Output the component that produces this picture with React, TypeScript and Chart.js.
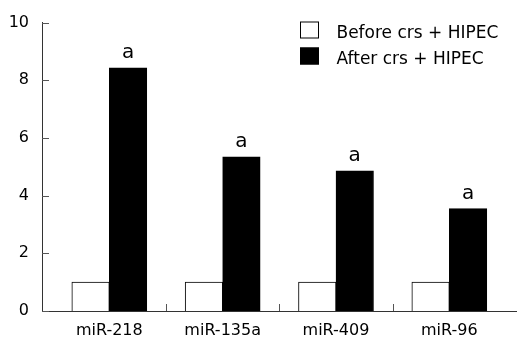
import React, { useEffect, useRef } from "react";
import { Chart, registerables } from "chart.js";

Chart.register(...registerables);

const categories = ["miR-218", "miR-135a", "miR-409", "miR-96"];
const beforeValues = [1.0, 1.0, 1.0, 1.0];
const afterValues = [8.43, 5.35, 4.86, 3.55];
const sigMarks = ["a", "a", "a", "a"];
const seriesLabels = ["Before crs + HIPEC", "After crs + HIPEC"];
const yTicks = [0, 2, 4, 6, 8, 10];

const FONT = "'DejaVu Sans', Verdana, sans-serif";

const axisTicksPlugin = {
  id: "axisTicks",
  afterDraw(chart: any) {
    const { ctx, scales } = chart;
    const x = scales.x;
    const y = scales.y;
    ctx.save();
    ctx.strokeStyle = "#555";
    ctx.lineWidth = 1;
    y.ticks.forEach((t: any) => {
      const py = Math.round(y.getPixelForValue(t.value)) + 0.5;
      ctx.beginPath();
      ctx.moveTo(x.left, py);
      ctx.lineTo(x.left + 7, py);
      ctx.stroke();
    });
    for (let i = 0; i < categories.length - 1; i++) {
      const px = Math.round(x.getPixelForValue(i + 0.5)) + 0.5;
      ctx.beginPath();
      ctx.moveTo(px, y.bottom);
      ctx.lineTo(px, y.bottom - 7);
      ctx.stroke();
    }
    ctx.restore();
  },
};

const sigPlugin = {
  id: "sigMarks",
  afterDatasetsDraw(chart: any) {
    const { ctx } = chart;
    const meta = chart.getDatasetMeta(1);
    ctx.save();
    ctx.font = `20px ${FONT}`;
    ctx.fillStyle = "#000";
    ctx.textAlign = "center";
    ctx.textBaseline = "alphabetic";
    meta.data.forEach((bar: any, i: number) => {
      ctx.fillText(sigMarks[i], bar.x, bar.y - 10);
    });
    ctx.restore();
  },
};

const boxLegendPlugin = {
  id: "boxLegend",
  afterDraw(chart: any, _args: any, opts: any) {
    const { ctx } = chart;
    ctx.save();
    ctx.font = `17px ${FONT}`;
    ctx.textAlign = "left";
    ctx.textBaseline = "alphabetic";
    chart.data.datasets.forEach((ds: any, i: number) => {
      const top = opts.y + i * opts.rowGap;
      ctx.fillStyle = ds.backgroundColor;
      ctx.fillRect(opts.x, top, opts.boxW, opts.boxH);
      ctx.strokeStyle = "#000";
      ctx.lineWidth = 1;
      ctx.strokeRect(opts.x + 0.5, top + 0.5, opts.boxW - 1, opts.boxH - 1);
      ctx.fillStyle = "#000";
      ctx.fillText(ds.label, opts.textX, top + opts.baseline);
    });
    ctx.restore();
  },
};

export default function App() {
  const ref = useRef<HTMLCanvasElement | null>(null);

  useEffect(() => {
    if (!ref.current) return;
    const chart = new Chart(ref.current, {
      type: "bar",
      data: {
        datasets: [
          {
            label: seriesLabels[0],
            data: beforeValues.map((v, i) => ({ x: i, y: v })),
            backgroundColor: "#ffffff",
            borderColor: "#000000",
            borderWidth: 1,
            barThickness: 37.5,
          },
          {
            label: seriesLabels[1],
            data: afterValues.map((v, i) => ({ x: i, y: v })),
            backgroundColor: "#000000",
            borderColor: "#000000",
            borderWidth: 1,
            barThickness: 37.5,
          },
        ],
      } as any,
      options: {
        animation: false,
        responsive: false,
        layout: { padding: { top: 19, right: 0, left: 0, bottom: 0 } },
        plugins: {
          legend: { display: false },
          tooltip: { enabled: false },
          boxLegend: { x: 300, y: 21.5, rowGap: 26, boxW: 19, boxH: 17, textX: 336.5, baseline: 16 },
        } as any,
        scales: {
          x: {
            type: "linear",
            offset: false,
            min: -0.594,
            max: 3.597,
            afterBuildTicks: (scale: any) => {
              scale.ticks = categories.map((_, i) => ({ value: i }));
            },
            afterFit: (scale: any) => {
              scale.height = 27;
            },
            ticks: {
              callback: (_v: any, idx: number) => categories[idx],
              font: { family: FONT, size: 16 },
              color: "#000",
              padding: 10,
              maxRotation: 0,
              autoSkip: false,
            },
            grid: { display: false, drawTicks: false, tickLength: 0, offset: false },
            border: { display: true, color: "#333", width: 1 },
          },
          y: {
            min: 0,
            max: 10,
            afterBuildTicks: (scale: any) => {
              scale.ticks = yTicks.map((v) => ({ value: v }));
            },
            afterFit: (scale: any) => {
              scale.width = 42;
            },
            ticks: {
              font: { family: FONT, size: 16 },
              color: "#000",
              padding: 13,
            },
            grid: { display: false, drawTicks: false, tickLength: 0 },
            border: { display: true, color: "#333", width: 1 },
          },
        },
      } as any,
      plugins: [axisTicksPlugin, sigPlugin, boxLegendPlugin],
    });
    return () => chart.destroy();
  }, []);

  return (
    <div style={{ position: "absolute", left: 0, top: 0, width: 517, height: 338, background: "#fff" }}>
      <canvas ref={ref} width={517} height={338} style={{ display: "block" }} />
    </div>
  );
}
